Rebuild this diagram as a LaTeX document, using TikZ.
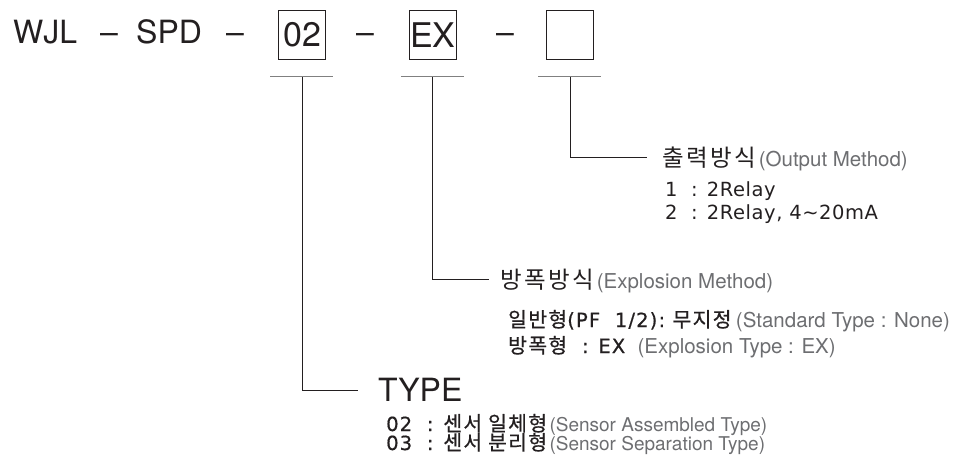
\documentclass[tikz,border=0pt]{standalone}
\usepackage{fontspec}
\setmainfont{TeX Gyre Heros}
\newfontfamily\krhead[LetterSpace=11]{Noto Sans CJK KR}
\newfontfamily\krbold[LetterSpace=6,FakeBold=0.6]{Noto Sans CJK KR}
\newfontfamily\lattext[LetterSpace=3]{DejaVu Sans}
\newfontfamily\latbold[LetterSpace=6,FakeBold=0.6]{DejaVu Sans}
\usetikzlibrary{positioning,calc}
\definecolor{ink}{HTML}{231F20}
\definecolor{note}{HTML}{6D6E71}
\newcommand{\kr}[1]{{\krbold\fontsize{20.5}{20.5}\selectfont #1}}

\begin{document}
\begin{tikzpicture}[x=1pt, y=-1pt,
    code/.style={anchor=base west, inner sep=0pt, text=ink, font=\fontsize{32}{32}\selectfont},
    slot/.style={draw=ink, line width=1.2pt, minimum width=47pt, minimum height=49pt, inner sep=0pt, text=ink, font=\fontsize{34}{34}\selectfont},
    bar/.style={draw=black!50, line width=1pt},
    lead/.style={draw=ink, line width=0.9pt},
    head/.style={anchor=west, inner sep=0pt, text=ink, font=\krhead\fontsize{23.5}{23.5}\selectfont},
    eng/.style={anchor=base west, inner sep=0pt, text=note, font=\fontsize{20.5}{20.5}\selectfont},
    item/.style={anchor=base west, inner sep=0pt, text=ink, font=\lattext\fontsize{19.5}{19.5}\selectfont},
    bitem/.style={item, font=\latbold\fontsize{19.5}{19.5}\selectfont}
]
\useasboundingbox (0,0) rectangle (959,464);

% model code
\node[code] (wjl) at (13,43) {WJL};
\node[code] (dash1) at (100,43) {--};
\node[code] (spd) at (136,43) {SPD};
\node[code] (dash2) at (226,43) {--};
\node[slot] (box02) at (302,34.7) {02};
\node[code] (dash3) at (356,43) {--};
\node[slot] (boxex) at (432.8,34.7) {EX};
\node[code] (dash4) at (496,43) {--};
\node[slot] (boxout) at (570.2,34.7) {};

% bars under the slots
\foreach \s in {box02,boxex,boxout}
  \draw[bar] ($(\s.south)+(-32,17)$) -- ++(63,0);

% output method
\node[head] (outh) at (662,157.5) {출력방식};
\node[eng] (outen) at ([xshift=2pt]outh.base east) {(Output Method)};
\node[item] (out1) at (665,196) {1\ \ : 2Relay};
\node[item] (out2) at (665,219) {2\ \ : 2Relay, 4\textasciitilde 20mA};
\draw[lead] ($(boxout.south)+(0,17)$) |- ([xshift=-15pt]outh.west);

% explosion method
\node[head] (exph) at (500,279.5) {방폭방식};
\node[eng] (expen) at ([xshift=2pt]exph.base east) {(Explosion Method)};
\node[bitem] (exp1) at (508,327) {\kr{일반형}(PF\ \ 1/2):\ \kr{무지정}};
\node[eng] (exp1en) at ([xshift=4pt]exp1.base east) {(Standard Type : None)};
\node[bitem] (exp2) at (508,353) {\kr{방폭형}\ \ : EX};
\node[eng] (exp2en) at ([xshift=12pt]exp2.base east) {(Explosion Type : EX)};
\draw[lead] ($(boxex.south)+(0,17)$) |- ([xshift=-11pt]exph.west);

% type
\node[head, font=\fontsize{32}{32}\selectfont] (typeh) at (378,390) {TYPE};
\node[bitem] (type1) at (386,431) {02\ \ : \kr{센서 일체형}};
\node[eng, font=\fontsize{19}{19}\selectfont] (type1en) at ([xshift=2pt]type1.base east) {(Sensor Assembled Type)};
\node[bitem] (type2) at (386,450) {03\ \ : \kr{센서 분리형}};
\node[eng, font=\fontsize{19}{19}\selectfont] (type2en) at ([xshift=2pt]type2.base east) {(Sensor Separation Type)};
\draw[lead] ($(box02.south)+(0,17)$) |- ([xshift=-20pt]typeh.west);
\end{tikzpicture}
\end{document}
